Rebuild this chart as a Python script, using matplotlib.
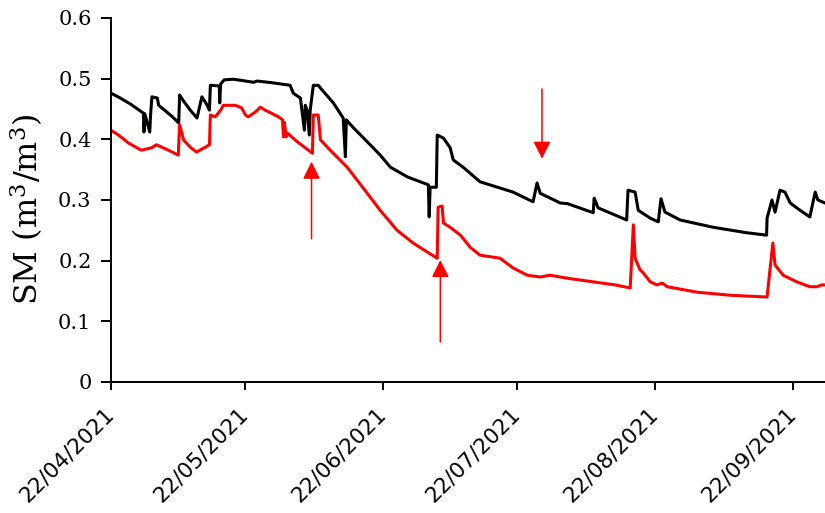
import pandas as pd
import matplotlib
matplotlib.use("Agg")
import matplotlib.pyplot as plt
import matplotlib.dates as mdates

# Humidade do solo (m3/m3), dias contados a partir de 22/04/2021
inicio = pd.Timestamp("2021-04-22")

dias_preto = [0.0, 2.1, 4.4, 7.3, 7.4, 7.6, 8.7, 8.9, 9.2, 10.4, 10.7, 12.2, 13.8, 15.2,
              15.4, 16.3, 17.8, 19.3, 20.4, 21.6, 22.1, 22.3, 24.3, 24.4, 24.6, 25.4,
              27.5, 32.0, 32.8, 36.4, 40.2, 40.9, 42.5, 43.4, 43.6, 44.0, 44.5, 44.7,
              45.4, 46.5, 47.4, 49.9, 52.1, 52.6, 52.8, 54.4, 57.5, 60.4, 62.7, 66.5,
              69.4, 71.2, 71.4, 71.6, 73.0, 73.2, 74.6, 76.1, 76.8, 79.0, 82.8, 86.7,
              90.2, 94.7, 95.6, 96.3, 100.8, 102.4, 108.2, 108.4, 109.3, 115.7, 116.0,
              117.6, 118.3, 121.0, 122.8, 123.4, 124.3, 127.7, 135.1, 142.6, 147.1,
              147.2, 148.3, 149.0, 150.1, 151.2, 152.4, 154.6, 156.8, 158.0, 158.6, 160.2]
sm_preto = [0.476, 0.468, 0.458, 0.443, 0.412, 0.442, 0.412, 0.442, 0.470, 0.468, 0.456,
            0.447, 0.437, 0.427, 0.473, 0.463, 0.448, 0.435, 0.470, 0.456, 0.448, 0.489,
            0.488, 0.460, 0.491, 0.498, 0.499, 0.494, 0.496, 0.493, 0.489, 0.476, 0.468,
            0.415, 0.456, 0.448, 0.407, 0.448, 0.489, 0.489, 0.481, 0.460, 0.435, 0.371,
            0.432, 0.419, 0.396, 0.374, 0.354, 0.338, 0.330, 0.325, 0.272, 0.321, 0.321,
            0.407, 0.402, 0.386, 0.366, 0.354, 0.330, 0.321, 0.313, 0.297, 0.328, 0.311,
            0.295, 0.294, 0.279, 0.303, 0.287, 0.267, 0.316, 0.313, 0.283, 0.270, 0.264,
            0.302, 0.280, 0.267, 0.255, 0.246, 0.242, 0.270, 0.300, 0.280, 0.316, 0.313,
            0.295, 0.283, 0.272, 0.313, 0.300, 0.295]

dias_vermelho = [0.0, 1.7, 3.9, 6.8, 9.1, 10.2, 12.9, 15.1, 15.4, 16.3, 17.8, 19.2, 21.2,
                 22.1, 22.3, 23.4, 24.6, 25.2, 27.9, 29.3, 30.2, 30.8, 32.4, 33.5, 34.6,
                 36.0, 37.6, 38.5, 38.7, 38.9, 39.3, 39.6, 41.8, 45.2, 45.4, 46.5, 47.0,
                 49.2, 53.0, 57.5, 60.4, 64.2, 67.8, 71.0, 73.2, 73.4, 74.3, 74.6, 76.1,
                 78.4, 80.6, 82.8, 87.3, 90.2, 93.4, 96.3, 98.5, 102.4, 108.2, 113.1,
                 116.5, 117.2, 117.6, 118.7, 119.4, 121.0, 122.5, 123.7, 124.8, 131.5,
                 138.9, 147.2, 148.5, 149.0, 150.8, 153.9, 156.8, 158.4, 159.5, 160.2]
sm_vermelho = [0.415, 0.407, 0.394, 0.382, 0.386, 0.391, 0.382, 0.374, 0.424, 0.399,
               0.387, 0.379, 0.387, 0.391, 0.440, 0.437, 0.448, 0.456, 0.456, 0.452,
               0.440, 0.437, 0.445, 0.453, 0.448, 0.443, 0.437, 0.432, 0.404, 0.428,
               0.404, 0.410, 0.396, 0.377, 0.440, 0.440, 0.399, 0.382, 0.354, 0.311,
               0.283, 0.250, 0.229, 0.214, 0.204, 0.288, 0.290, 0.262, 0.255, 0.242,
               0.222, 0.209, 0.204, 0.188, 0.176, 0.173, 0.176, 0.171, 0.165, 0.160,
               0.155, 0.259, 0.204, 0.185, 0.180, 0.165, 0.160, 0.163, 0.157, 0.148,
               0.143, 0.140, 0.229, 0.193, 0.176, 0.165, 0.157, 0.157, 0.160, 0.160]

# setas: (dia, y da cauda, y da ponta)
setas = [(45.0, 0.236, 0.363), (73.9, 0.066, 0.201), (96.7, 0.483, 0.368)]

datas_preto = inicio + pd.to_timedelta(dias_preto, unit="D")
datas_vermelho = inicio + pd.to_timedelta(dias_vermelho, unit="D")

plt.rcParams["mathtext.fontset"] = "dejavuserif"

fig = plt.figure(figsize=(8.25, 5.13), dpi=100)
ax = fig.add_axes([0.1345, 0.2554, 0.8655, 0.7096])

ax.plot(datas_preto, sm_preto, color="black", lw=2.2)
ax.plot(datas_vermelho, sm_vermelho, color="#ff0000", lw=2.2)

for dia, y0, y1 in setas:
    x = inicio + pd.Timedelta(days=dia)
    ax.annotate("", xy=(x, y1), xytext=(x, y0),
                arrowprops=dict(arrowstyle="-|>,head_length=0.7,head_width=0.35",
                                color="#ff0000", lw=1.1, mutation_scale=15,
                                shrinkA=0, shrinkB=0))

ax.set_ylim(0, 0.6)
ax.set_yticks([0, 0.1, 0.2, 0.3, 0.4, 0.5, 0.6])
ax.set_yticklabels(["0", "0.1", "0.2", "0.3", "0.4", "0.5", "0.6"])
ax.set_xlim(inicio, inicio + pd.Timedelta(days=160.2))

ticks = pd.date_range("2021-04-22", periods=6, freq=pd.DateOffset(months=1))
ax.set_xticks(ticks)
ax.xaxis.set_major_formatter(mdates.DateFormatter("%d/%m/%Y"))

ax.spines["top"].set_visible(False)
ax.spines["right"].set_visible(False)
for s in ["left", "bottom"]:
    ax.spines[s].set_linewidth(1.4)

ax.tick_params(axis="y", direction="out", length=7, width=1.4, pad=7)
ax.tick_params(axis="x", direction="out", length=6, width=1.4, pad=15)
for lab in ax.get_yticklabels():
    lab.set_fontfamily("DejaVu Serif")
    lab.set_fontsize(15)
for lab in ax.get_xticklabels():
    lab.set_fontfamily("DejaVu Sans")
    lab.set_fontsize(15.5)
    lab.set_rotation(45)
    lab.set_rotation_mode("anchor")
    lab.set_ha("right")
    lab.set_va("center")

ax.set_ylabel("SM (m$^3$/m$^3$)", fontfamily="DejaVu Serif", fontsize=23)
ax.yaxis.set_label_coords(-0.092, 0.475)

fig.savefig("out.png", dpi=100)
